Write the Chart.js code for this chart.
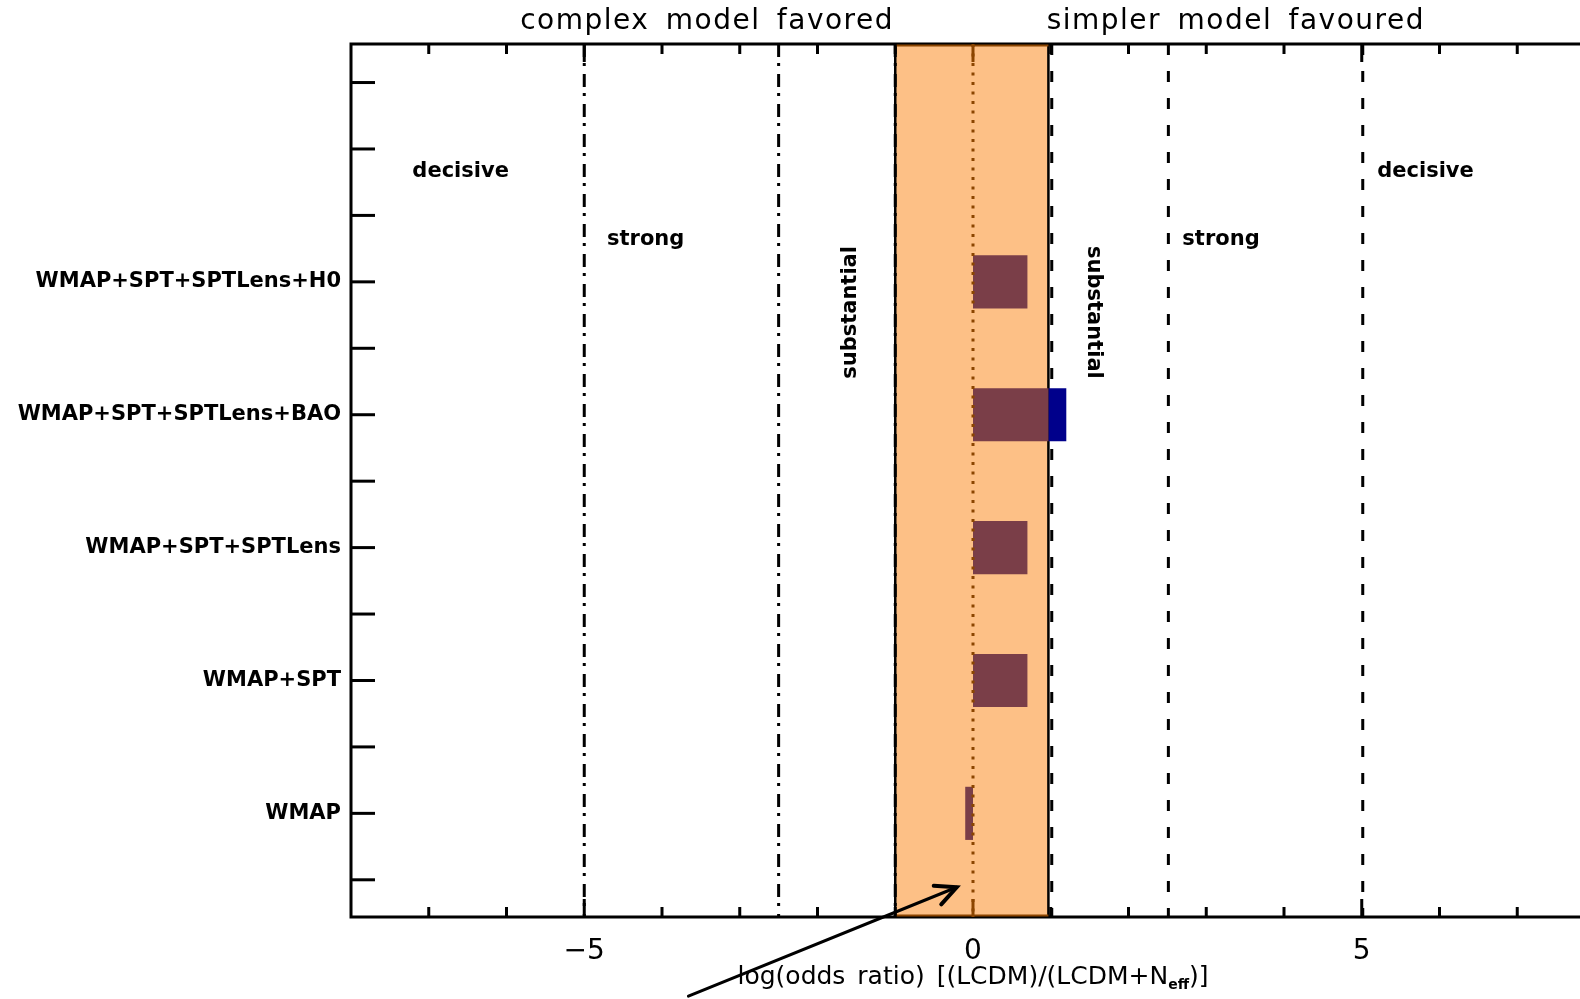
<!DOCTYPE html>
<html>
<head>
<meta charset="utf-8">
<script src="https://cdn.jsdelivr.net/npm/chart.js@4.4.1/dist/chart.umd.min.js"></script>
<style>
    html, body { margin: 0; padding: 0; background: #fff; overflow: hidden; }
    #wrap { position: relative; width: 1600px; height: 999px; }
</style>
</head>
<body>
<div id="wrap"><canvas id="oddsChart"></canvas></div>
<script>
// Data combinations, bottom to top
const categories = ['WMAP', 'WMAP+SPT', 'WMAP+SPT+SPTLens', 'WMAP+SPT+SPTLens+BAO', 'WMAP+SPT+SPTLens+H0'];
const categoryPos = [1, 2, 3, 4, 5];
const logOdds = [-0.1, 0.7, 0.7, 1.2, 0.7];

// Axes
const xRange = [-8, 8];
const xTicks = [-7, -6, -5, -4, -3, -2, -1, 0, 1, 2, 3, 4, 5, 6, 7];
const xTickLabels = [-5, 0, 5];
const yRange = [0.22, 6.79];
const yTicks = [0.5, 1, 1.5, 2, 2.5, 3, 3.5, 4, 4.5, 5, 5.5, 6, 6.5];

// Jeffreys scale boundaries
const bandRange = [-1, 0.97];
const dashDotLines = [-5, -2.5, -1];
const dashedLines = [1, 2.5, 5];
const zeroLine = 0;

// Annotations (data units)
const regionLabels = [
    { text: 'decisive', x: -6.59, y: 5.83, rot: 0 },
    { text: 'strong', x: -4.21, y: 5.32, rot: 0 },
    { text: 'substantial', x: -1.58, y: 4.77, rot: -Math.PI / 2 },
    { text: 'substantial', x: 1.55, y: 4.77, rot: Math.PI / 2 },
    { text: 'strong', x: 3.19, y: 5.32, rot: 0 },
    { text: 'decisive', x: 5.82, y: 5.83, rot: 0 }
];
const topLabels = [
    { text: 'complex model favored', x: -3.42 },
    { text: 'simpler model favoured', x: 3.38 }
];
const arrowFrom = [-3.66, -0.376];
const arrowTo = [-0.21, 0.444];

const BAND = '#fdc086';
const MAROON = '#7a3e48';
const NAVY = '#00008b';
const BROWN = '#8b4500';
const FONT = '"DejaVu Sans"';

Chart.defaults.font.family = FONT;
Chart.defaults.color = '#000';

// bar part inside the band is maroon, anything past the band edge is navy
const insideBars = logOdds.map((v, i) => ({ x: [0, Math.min(v, bandRange[1])], y: categoryPos[i] }));
const outsideBars = logOdds.map((v, i) => ({ x: v > bandRange[1] ? [bandRange[1], v] : null, y: categoryPos[i] }));

function vline(ctx, px, a) {
    ctx.beginPath();
    ctx.moveTo(px, a.top);
    ctx.lineTo(px, a.bottom);
    ctx.stroke();
}

const overlay = {
    id: 'overlay',
    beforeDatasetsDraw(chart) {
        const { ctx, chartArea: a, scales: { x } } = chart;
        const b0 = x.getPixelForValue(bandRange[0]);
        const b1 = x.getPixelForValue(bandRange[1]);
        ctx.save();
        ctx.fillStyle = BAND;
        ctx.fillRect(b0, a.top, b1 - b0, a.bottom - a.top);
        ctx.strokeStyle = '#000';
        ctx.lineWidth = 2.5;
        vline(ctx, b0, a);
        vline(ctx, b1, a);

        ctx.lineWidth = 3;
        ctx.setLineDash([13, 6, 3, 8]);
        dashDotLines.forEach(v => vline(ctx, x.getPixelForValue(v), a));
        ctx.setLineDash([11, 16]);
        dashedLines.forEach(v => vline(ctx, x.getPixelForValue(v) + 1, a));
        ctx.restore();
    },
    afterDatasetsDraw(chart) {
        const { ctx, chartArea: a, scales: { x, y } } = chart;
        const b0 = x.getPixelForValue(bandRange[0]);
        const b1 = x.getPixelForValue(bandRange[1]);
        ctx.save();

        // dotted zero line
        ctx.strokeStyle = BROWN;
        ctx.lineWidth = 3;
        ctx.setLineDash([3, 6.5]);
        vline(ctx, x.getPixelForValue(zeroLine), a);
        ctx.setLineDash([]);

        // axis box
        ctx.strokeStyle = '#000';
        ctx.lineWidth = 3;
        ctx.beginPath();
        ctx.moveTo(a.right, a.top);
        ctx.lineTo(a.left, a.top);
        ctx.lineTo(a.left, a.bottom);
        ctx.lineTo(a.right, a.bottom);
        ctx.stroke();

        // band edges along the axes
        ctx.strokeStyle = BROWN;
        ctx.lineWidth = 2;
        ctx.beginPath();
        ctx.moveTo(b0, a.top + 1.5); ctx.lineTo(b1, a.top + 1.5);
        ctx.moveTo(b0, a.bottom - 1.5); ctx.lineTo(b1, a.bottom - 1.5);
        ctx.stroke();

        // inward ticks
        ctx.lineWidth = 3;
        xTicks.forEach(v => {
            const px = x.getPixelForValue(v);
            const len = xTickLabels.includes(v) ? 18 : 10;
            ctx.strokeStyle = (v > bandRange[0] && v < bandRange[1]) ? BROWN : '#000';
            ctx.beginPath();
            ctx.moveTo(px, a.bottom); ctx.lineTo(px, a.bottom - len);
            ctx.moveTo(px, a.top); ctx.lineTo(px, a.top + len);
            ctx.stroke();
        });
        ctx.strokeStyle = '#000';
        yTicks.forEach(v => {
            const py = y.getPixelForValue(v);
            ctx.beginPath();
            ctx.moveTo(a.left, py); ctx.lineTo(a.left + 24, py);
            ctx.stroke();
        });

        // region labels
        ctx.fillStyle = '#000';
        ctx.font = `bold 21px ${FONT}`;
        ctx.textAlign = 'center';
        ctx.textBaseline = 'middle';
        regionLabels.forEach(l => {
            ctx.save();
            ctx.translate(x.getPixelForValue(l.x), y.getPixelForValue(l.y));
            ctx.rotate(l.rot);
            ctx.fillText(l.text, 0, 0);
            ctx.restore();
        });

        // top labels
        ctx.font = `28px ${FONT}`;
        ctx.letterSpacing = '1.5px';
        ctx.wordSpacing = '6px';
        topLabels.forEach(l => ctx.fillText(l.text, x.getPixelForValue(l.x), 22));
        ctx.letterSpacing = '0px';

        // x title with subscript
        const main = 'log(odds ratio) [(LCDM)/(LCDM+N';
        const sub = 'eff';
        const tail = ')]';
        ctx.wordSpacing = '4px';
        ctx.font = `25px ${FONT}`;
        const w1 = ctx.measureText(main).width;
        const w3 = ctx.measureText(tail).width;
        ctx.font = `bold 14px ${FONT}`;
        const w2 = ctx.measureText(sub).width;
        const cx = x.getPixelForValue(0);
        const tx = cx - (w1 + w2 + w3) / 2;
        const ty = 977;
        ctx.textAlign = 'left';
        ctx.font = `25px ${FONT}`;
        ctx.fillText(main, tx, ty);
        ctx.font = `bold 14px ${FONT}`;
        ctx.fillText(sub, tx + w1, ty + 8);
        ctx.font = `25px ${FONT}`;
        ctx.fillText(tail, tx + w1 + w2, ty);
        ctx.wordSpacing = '0px';

        // arrow
        const sx = x.getPixelForValue(arrowFrom[0]), sy = y.getPixelForValue(arrowFrom[1]);
        const ex = x.getPixelForValue(arrowTo[0]), ey = y.getPixelForValue(arrowTo[1]);
        const ang = Math.atan2(sy - ey, sx - ex);
        ctx.strokeStyle = '#000';
        ctx.lineWidth = 3;
        ctx.lineCap = 'round';
        ctx.beginPath();
        ctx.moveTo(sx, sy); ctx.lineTo(ex, ey);
        ctx.stroke();
        ctx.lineWidth = 4;
        ctx.beginPath();
        ctx.moveTo(ex + 23 * Math.cos(ang + 0.45), ey + 23 * Math.sin(ang + 0.45));
        ctx.lineTo(ex, ey);
        ctx.lineTo(ex + 23 * Math.cos(ang - 0.45), ey + 23 * Math.sin(ang - 0.45));
        ctx.stroke();

        ctx.restore();
    }
};

const ctx = document.getElementById('oddsChart').getContext('2d');
new Chart(ctx, {
    type: 'bar',
    data: {
        datasets: [
            {
                data: insideBars,
                backgroundColor: MAROON,
                grouped: false,
                categoryPercentage: 1,
                barPercentage: 0.4
            },
            {
                data: outsideBars,
                backgroundColor: NAVY,
                grouped: false,
                categoryPercentage: 1,
                barPercentage: 0.4
            }
        ]
    },
    options: {
        indexAxis: 'y',
        responsive: true,
        maintainAspectRatio: false,
        animation: false,
        layout: { padding: { top: 44, right: 5, left: 0, bottom: 0 } },
        plugins: {
            legend: { display: false },
            tooltip: { enabled: false }
        },
        scales: {
            x: {
                type: 'linear',
                min: xRange[0],
                max: xRange[1],
                offset: false,
                grid: { display: false },
                border: { display: false },
                afterBuildTicks: scale => {
                    scale.ticks = xTickLabels.map(v => ({ value: v }));
                },
                afterFit: scale => { scale.height = 82; },
                ticks: {
                    padding: 10,
                    font: { size: 28 },
                    callback: v => (v < 0 ? '\u2212' + Math.abs(v) : String(v))
                }
            },
            y: {
                type: 'linear',
                min: yRange[0],
                max: yRange[1],
                offset: false,
                grid: { display: false },
                border: { display: false },
                afterBuildTicks: scale => {
                    scale.ticks = categoryPos.map(v => ({ value: v }));
                },
                afterFit: scale => { scale.width = 351; },
                ticks: {
                    padding: 2,
                    font: { size: 21, weight: 'bold' },
                    callback: v => {
                        const i = categoryPos.indexOf(v);
                        return i >= 0 ? categories[i] : '';
                    }
                }
            }
        }
    },
    plugins: [overlay]
});
</script>
</body>
</html>
